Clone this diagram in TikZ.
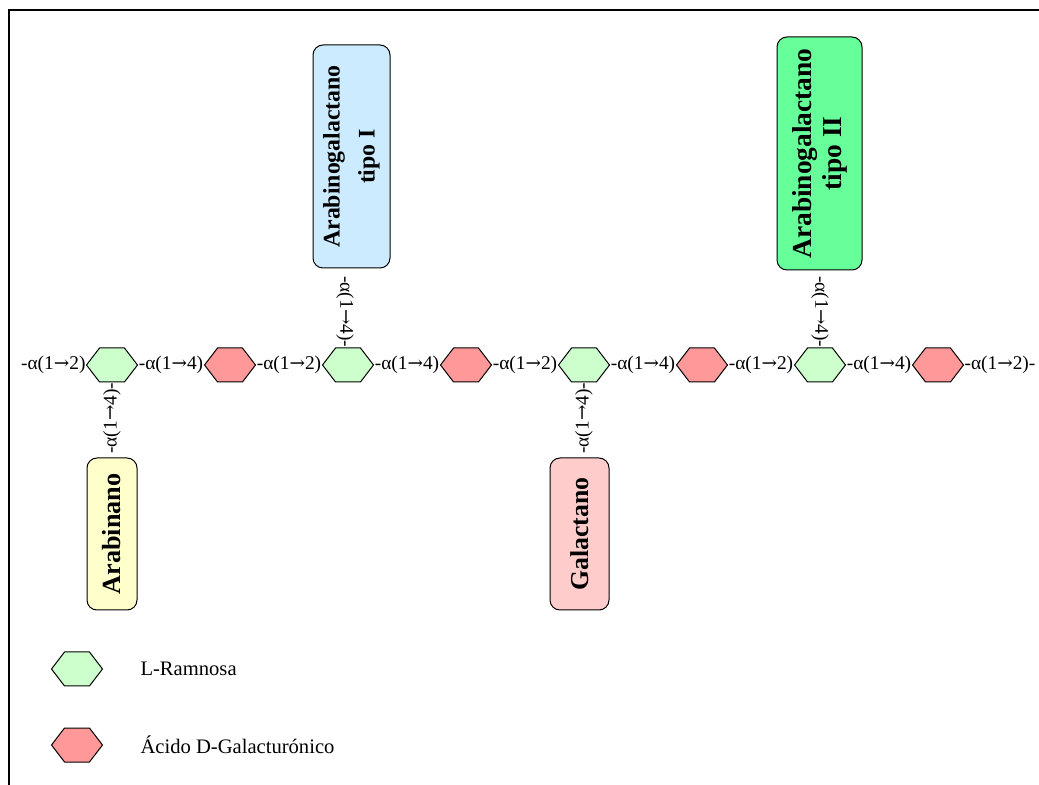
\documentclass[tikz,border=0pt]{standalone}
\usepackage{fontspec}
\setmainfont{Liberation Serif}
\newfontfamily\flechafont[Scale=0.95]{DejaVu Serif}
\usetikzlibrary{positioning,calc,shapes.symbols}

\definecolor{ramnosa}{HTML}{CCFFCC}
\definecolor{galacturonico}{HTML}{FF9999}
\definecolor{tipouno}{HTML}{CCEBFF}
\definecolor{tipodos}{HTML}{66FF99}
\definecolor{arabin}{HTML}{FFFFCC}
\definecolor{galact}{HTML}{FFCCCC}

\newcommand{\flecha}{{\flechafont →}}

\tikzset{
	hexa/.style={signal, signal to=west and east, signal pointer angle=105,
		draw, line width=0.5pt, minimum width=25.5pt, minimum height=17pt, inner sep=0pt},
	ram/.style={hexa, fill=ramnosa},
	gal/.style={hexa, fill=galacturonico},
	enlace/.style={font=\fontsize{9.7}{11}\selectfont, inner sep=0pt},
	cadena/.style={draw, line width=0.5pt, rounded corners=5pt, rotate=90,
		align=center, inner sep=0pt},
	leyenda/.style={font=\fontsize{10.3}{12}\selectfont, inner sep=0pt, anchor=west}
}

\begin{document}
\begin{tikzpicture}[x=0.5pt,y=-0.5pt]
	\useasboundingbox (0,0) rectangle (1039,785);
	\draw [line width=1pt] (9,785) |- (1039,10);
	% cadena principal
	\node [ram] (G1) at (112,365) {};
	\node [gal] (R1) at (230,365) {};
	\node [ram] (G2) at (348,365) {};
	\node [gal] (R2) at (466,365) {};
	\node [ram] (G3) at (584,365) {};
	\node [gal] (R3) at (702,365) {};
	\node [ram] (G4) at (820,365) {};
	\node [gal] (R4) at (938,365) {};
	% enlaces
	\node [enlace, anchor=east] (E0) at (G1.west) {-α(1\flecha2)};
	\node [enlace] (E1) at ($(G1)!0.5!(R1)$) {-α(1\flecha4)};
	\node [enlace] (E2) at ($(R1)!0.5!(G2)$) {-α(1\flecha2)};
	\node [enlace] (E3) at ($(G2)!0.5!(R2)$) {-α(1\flecha4)};
	\node [enlace] (E4) at ($(R2)!0.5!(G3)$) {-α(1\flecha2)};
	\node [enlace] (E5) at ($(G3)!0.5!(R3)$) {-α(1\flecha4)};
	\node [enlace] (E6) at ($(R3)!0.5!(G4)$) {-α(1\flecha2)};
	\node [enlace] (E7) at ($(G4)!0.5!(R4)$) {-α(1\flecha4)};
	\node [enlace, anchor=west] (E8) at (R4.east) {-α(1\flecha2)-};
	% ramificaciones
	\node [enlace, rotate=90, anchor=east] (B1) at (G1.south) {-α(1\flecha4)-};
	\node [enlace, rotate=-90, anchor=east] (B2) at ($(G2.north)+(-3,0)$) {-α(1\flecha4)-};
	\node [enlace, rotate=90, anchor=east] (B3) at (G3.south) {-α(1\flecha4)-};
	\node [enlace, rotate=-90, anchor=east] (B4) at (G4.north) {-α(1\flecha4)-};
	% cadenas laterales
	\node [cadena, fill=arabin, minimum width=76pt, minimum height=25pt,
		font=\fontsize{13.1}{15}\selectfont\bfseries] (arabinano) at (112,534) {Arabinano};
	\node [cadena, fill=tipouno, minimum width=111.5pt, minimum height=38.5pt,
		font=\fontsize{11.9}{17.5}\selectfont\bfseries] (tipoI) at (351.5,156.5) {Arabinogalactano\\tipo I};
	\node [cadena, fill=galact, minimum width=76pt, minimum height=29.5pt,
		font=\fontsize{12.9}{15}\selectfont\bfseries] (galactano) at (579.5,534) {Galactano};
	\node [cadena, fill=tipodos, minimum width=116.5pt, minimum height=42.5pt,
		font=\fontsize{13.7}{15}\selectfont\bfseries] (tipoII) at (819.5,153.5) {Arabinogalactano\\tipo II};
	% leyenda
	\node [ram] (LR) at (77,669) {};
	\node [gal] (LG) at (77,745) {};
	\node [leyenda, right=18.5pt of LR] (tR) {L-Ramnosa};
	\node [leyenda, right=18.5pt of LG] (tG) {Ácido D-Galacturónico};
\end{tikzpicture}
\end{document}
